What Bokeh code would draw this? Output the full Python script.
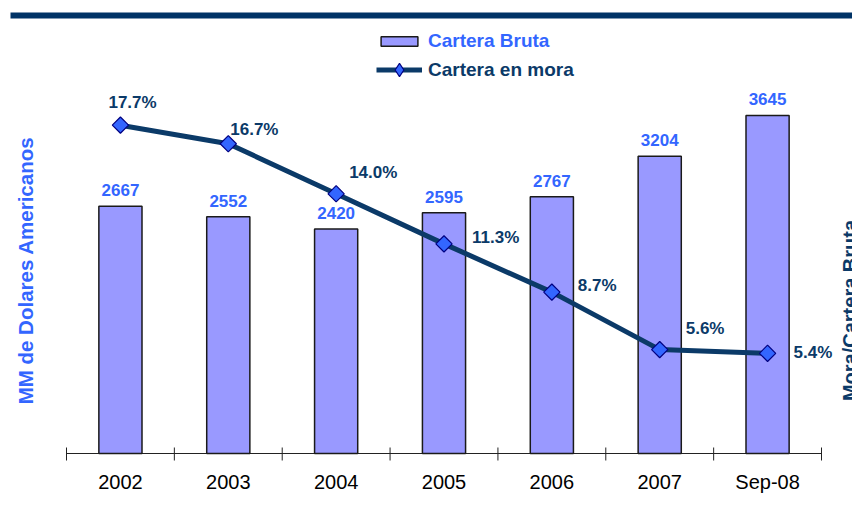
import math
from bokeh.plotting import figure
from bokeh.models import (Range1d, ColumnDataSource, Label, Legend, LegendItem,
                          BoxAnnotation)
from bokeh.core.properties import value
from bokeh.embed import file_html
from bokeh.resources import INLINE

# ---- data ----
categories = ["2002", "2003", "2004", "2005", "2006", "2007", "Sep-08"]
cartera_bruta = [2667, 2552, 2420, 2595, 2767, 3204, 3645]
cartera_mora = [17.7, 16.7, 14.0, 11.3, 8.7, 5.6, 5.4]
bar_labels = ["2667", "2552", "2420", "2595", "2767", "3204", "3645"]
mora_labels = ["17.7%", "16.7%", "14.0%", "11.3%", "8.7%", "5.6%", "5.4%"]
y_max_bruta = 4000
y_max_mora = 20

# ---- layout / styling (screen px) ----
W, H = 852, 506
AX_L, AX_R, AX_T, AX_B = 66, 821, 82, 453   # plot area in canvas pixels
mora_dx = [-12, 2, 13, 28, 26, 26, 26]
mora_dy = [-23, -14, -21, -6, -7, -21, -1]
FONT = "Liberation Sans"
NAVY = "#0B3A68"
BLUE = "#3366FF"
BAR = "#9999FF"

n = len(categories)
xpos = [i + 0.5 for i in range(n)]
kx = n / (AX_R - AX_L)
ky = y_max_bruta / (AX_B - AX_T)
kp = y_max_mora / (AX_B - AX_T)

src = ColumnDataSource(dict(x=xpos, bruta=cartera_bruta, mora=cartera_mora,
                            blab=bar_labels, mlab=mora_labels, cat=categories,
                            zero=[0] * n, dx=mora_dx, dy=mora_dy))

p = figure(width=W, height=H, output_backend="svg", toolbar_location=None,
           x_range=Range1d(-AX_L * kx, (W - AX_L) * kx),
           y_range=Range1d(-(H - AX_B) * ky, y_max_bruta + AX_T * ky),
           x_axis_type=None, y_axis_type=None,
           min_border=0, min_border_left=0, min_border_right=0,
           min_border_top=0, min_border_bottom=0)
p.extra_y_ranges = {"pct": Range1d(-(H - AX_B) * kp, y_max_mora + AX_T * kp)}
p.outline_line_color = None
p.xgrid.visible = False
p.ygrid.visible = False
p.background_fill_color = "white"
p.border_fill_color = "white"

# x axis drawn through the data scales: baseline, boundary ticks, category labels
bounds = list(range(n + 1))
p.segment(x0=[0], x1=[n], y0=[0], y1=[0], line_color="#222222", line_width=1)
p.segment(x0=bounds, x1=bounds, y0=[6 * ky] * len(bounds), y1=[-7 * ky] * len(bounds),
          line_color="#222222", line_width=1)
p.text(x="x", y="zero", text="cat", source=src, text_align="center",
       text_baseline="alphabetic", y_offset=28, text_font=value(FONT),
       text_font_size="20px", text_color="black")

bars = p.vbar(x="x", top="bruta", width=0.4, source=src, fill_color=BAR,
              line_color="#1a1a1a", line_width=1.5)
line = p.line(x="x", y="mora", source=src, y_range_name="pct", line_color=NAVY,
              line_width=5)
# diamond used for the legend swatch (hidden behind the rotated squares below)
legend_marker = p.scatter(x="x", y="mora", source=src, y_range_name="pct",
                          marker="diamond", size=9, fill_color=BLUE,
                          line_color="#000080", line_width=1.2)
pts = p.scatter(x="x", y="mora", source=src, y_range_name="pct", marker="square",
                angle=math.pi / 4, size=11.5, fill_color=BLUE, line_color="#000080",
                line_width=1.2)

p.text(x="x", y="bruta", text="blab", source=src, text_align="center",
       text_baseline="alphabetic", y_offset=-16, text_font=value(FONT),
       text_font_size="17px", text_font_style="bold", text_color=BLUE)
p.text(x="x", y="mora", text="mlab", source=src, y_range_name="pct",
       text_align="left", text_baseline="middle", x_offset="dx", y_offset="dy",
       text_font=value(FONT), text_font_size="17px", text_font_style="bold",
       text_color=NAVY)

# axis titles
p.add_layout(Label(x=25, y=H - 270, x_units="screen", y_units="screen",
                   text="MM de Dolares Americanos", angle=math.pi / 2,
                   text_align="center", text_baseline="middle", text_font=FONT,
                   text_font_size="20.5px", text_font_style="bold", text_color=BLUE))
p.add_layout(Label(x=849, y=H - 310, x_units="screen", y_units="screen",
                   text="Mora/Cartera Bruta", angle=math.pi / 2,
                   text_align="center", text_baseline="middle", text_font=FONT,
                   text_font_size="20px", text_font_style="bold", text_color=NAVY))

# top band
p.add_layout(BoxAnnotation(left=10, right=W, top=H - 12, bottom=H - 18,
                           left_units="screen", right_units="screen",
                           top_units="screen", bottom_units="screen",
                           fill_color="#003366", fill_alpha=1.0, line_color=None,
                           level="overlay"))

# legends (one per entry so each label keeps its own colour)
def mk_legend(item, color, bottom, gh):
    lg = Legend(items=[item], location=(376, H - bottom), orientation="vertical",
                padding=0, margin=0, border_line_color=None,
                background_fill_alpha=0, glyph_width=46, glyph_height=gh,
                label_standoff=6, label_text_font=FONT, label_text_font_size="19px",
                label_text_font_style="bold", label_text_color=color,
                label_height=20)
    p.add_layout(lg, "center")

mk_legend(LegendItem(label="Cartera Bruta", renderers=[bars]), BLUE, 52, 12)
mk_legend(LegendItem(label="Cartera en mora", renderers=[line, legend_marker]), NAVY, 86, 33)

open("out.html", "w").write(file_html(p, INLINE))
